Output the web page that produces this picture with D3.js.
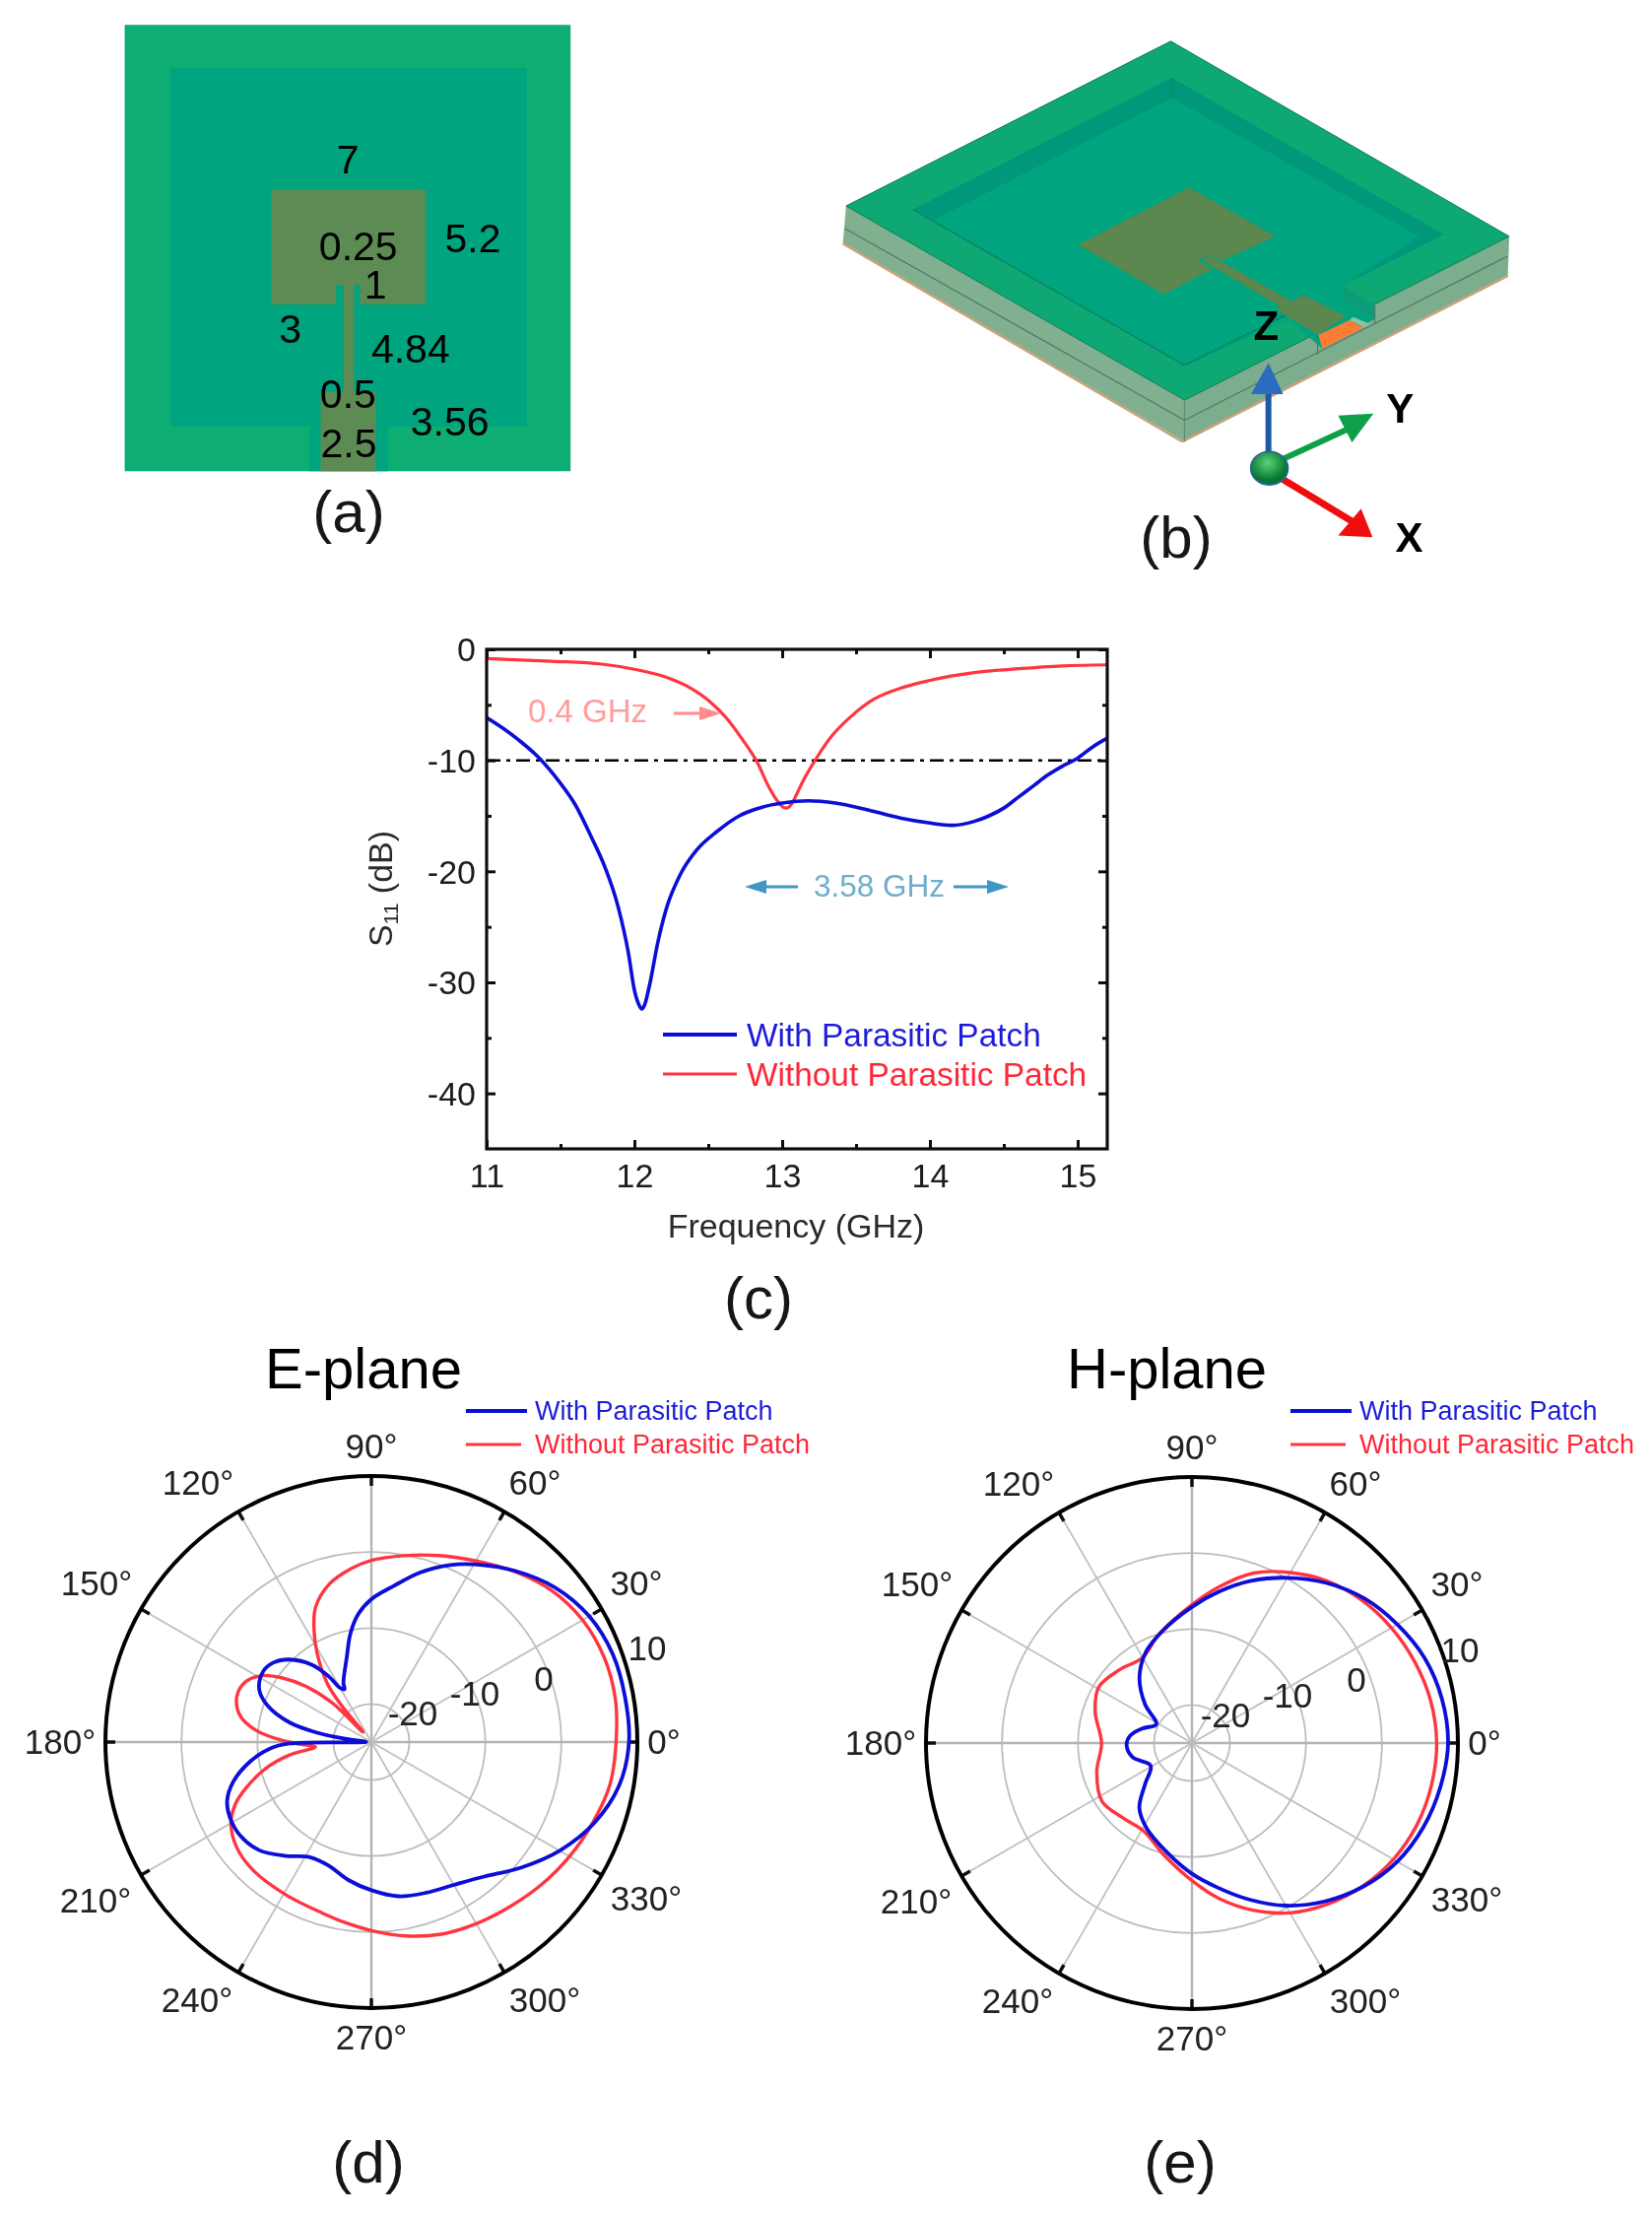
<!DOCTYPE html>
<html><head><meta charset="utf-8">
<script src="https://cdn.jsdelivr.net/npm/d3@7"></script>
<style>html,body{margin:0;background:#fff}svg{display:block}text{font-family:"Liberation Sans",Arial,sans-serif;fill:#141414}</style>
</head><body><svg id="fig" width="1677" height="2248"></svg>
<script>
// ---- data ----
const s11Freq = [11,11.11,11.22,11.36,11.49,11.6,11.71,11.8,11.89,11.96,12,12.03,12.05,12.07,12.1,12.16,12.22,12.31,12.42,12.56,12.71,12.87,13,13.18,13.36,13.56,13.8,14,14.15,14.3,14.4,14.5,14.6,14.7,14.8,14.9,15,15.1,15.2];
const s11With = [-6.15,-7.1,-8.2,-9.85,-11.9,-14,-16.95,-19.6,-23.2,-27.4,-30.7,-32,-32.4,-32,-30.4,-26.3,-23.2,-20.3,-18.1,-16.4,-15,-14.2,-13.85,-13.65,-13.85,-14.4,-15.2,-15.65,-15.85,-15.5,-15,-14.3,-13.3,-12.3,-11.3,-10.5,-9.8,-8.8,-8];
const s11FreqNo = [11,11.44,11.78,12,12.2,12.38,12.51,12.62,12.73,12.83,12.91,12.97,13,13.03,13.06,13.1,13.14,13.23,13.33,13.47,13.62,13.8,14,14.3,14.6,14.9,15.2];
const s11Without = [-0.83,-1.07,-1.33,-1.8,-2.45,-3.5,-4.7,-6.15,-8.1,-10.15,-12.4,-13.7,-14.15,-14.3,-14,-13,-11.9,-9.85,-7.9,-6,-4.5,-3.5,-2.8,-2.1,-1.75,-1.5,-1.4];
const xTicks = [11,12,13,14,15], xMinor = [11.5,12.5,13.5,14.5];
const yTicks = [0,-10,-20,-30,-40], yMinor = [-5,-15,-25,-35];
const seriesNames = ["With Parasitic Patch","Without Parasitic Patch"];
const polarAngles = [0,30,60,90,120,150,180,210,240,270,300,330];
const polarRings = [-20,-10,0,10];

const eWithAng = [0,10,20,30,40,50,60,66,74,82,90,95.9,101,106,115.3,117,120,123,127.5,134.8,141,146.9,154.9,160.8,166.5,170,172.9,178,181,183.7,189.2,196,202.2,208.1,215.5,224,233,241.5,250.9,260.5,270,280,290,300,310,320,330,340,350];
const eWithDb = [8.9,8.9,8.8,8.1,6.6,4.4,2,0.5,-1.8,-4.3,-6.2,-8.1,-10.5,-13.3,-16.4,-17.2,-16.8,-14.7,-12.2,-9.7,-8.4,-8,-8.7,-10.6,-13.9,-17.5,-21.5,-24.3,-14.2,-11.6,-8.8,-6.1,-4.5,-3.9,-3.8,-4.5,-6.25,-7.8,-7.8,-6.6,-5.5,-4.4,-3.9,-3.3,-1.9,0.7,3.6,6.2,8.1];
const eNoAng = [0,10,20,30,40,50,60,70,80,90,96.5,105,112.5,117.2,121.4,126.9,129.3,130,135,139.6,144.2,148.4,154,161.1,168.7,174.3,179,181.6,185,189,194,200,204.6,210.3,218,227.3,240.8,253.9,261.7,270,280,290,300,310,320,330,340,350];
const eNoDb = [7.2,7.6,7.6,7.1,6,4.3,2.5,1.1,-0.1,-1.1,-2,-3.5,-5.8,-8.5,-11.3,-15.3,-18.9,-23.3,-17.7,-13.7,-10.6,-8.3,-6.7,-6.3,-7.4,-9.8,-13.3,-15.5,-17.6,-14.1,-10.7,-7.5,-5.3,-3.6,-2.5,-2.05,-1.97,-1.6,-1,-0.2,0.9,1.9,2.6,3.3,4.2,5.1,6,6.9];
const hWithAng = [0,10,20,30,40,50,60,70,80,90,105,117,128.9,140.5,152.2,163.6,173.3,182,193.8,208.7,221.2,231,242,258,270,280,290,300,310,320,330,340,350];
const hWithDb = [8.7,8.4,7.6,6.2,4.6,2.5,0.1,-2.3,-4.8,-7.1,-9.8,-11.6,-14,-17,-19.7,-18.2,-16.8,-16.4,-17,-18.8,-16.8,-14,-12.3,-10.1,-7.8,-5.7,-3.1,-0.3,2.2,4.4,6.2,7.4,8.2];
const hNoAng = [0,10,20,30,40,50,60,70,80,90,106.6,120,135.4,149,162,180,197,212.7,227.5,241,256,270,280,290,300,310,320,330,340,350];
const hNoDb = [7.2,6.9,6.2,5.3,4.2,2.8,0.9,-1.2,-4.1,-6.8,-10,-12,-11.4,-10.7,-11.6,-13.1,-11.9,-10.9,-11.6,-11.8,-9.8,-6.9,-4.2,-1.6,0.8,2.7,4.3,5.6,6.5,7];

// ---- setup ----
const BLUE="#0c0cd8", RED="#ff3440";
const svg=d3.select("#fig");
const defs=svg.append("defs");
defs.append("filter").attr("id","soft").attr("x",0).attr("y",0).attr("width",1).attr("height",1)
  .attr("filterUnits","objectBoundingBox").append("feGaussianBlur").attr("stdDeviation",0.7);
const grad=defs.append("radialGradient").attr("id","ball").attr("cx","45%").attr("cy","35%");
grad.append("stop").attr("offset","0%").attr("stop-color","#5fd07a");
grad.append("stop").attr("offset","100%").attr("stop-color","#067a30");
const root=svg.append("g").attr("filter","url(#soft)");
root.append("rect").attr("width",1677).attr("height",2248).attr("fill","#fff");
const T=(g,s,x,y,size,opt={})=>g.append("text").text(s).attr("x",x).attr("y",y).attr("font-size",size)
  .attr("text-anchor",opt.anchor||"start").attr("font-weight",opt.bold?"bold":null).style("fill",opt.fill||null);

// ---- panel (a) ----
{
  const g=root.append("g");
  const X=d3.scaleLinear([0,1568],[100,620]), Y=d3.scaleLinear([0,1568],[0,580]);
  const poly=(pts,fill)=>g.append("path").attr("d",d3.line().x(d=>X(d[0])).y(d=>Y(d[1])).curve(d3.curveLinearClosed)(pts)).attr("fill",fill);
  poly([[80,68],[1445,68],[1445,1293],[80,1293]],"#09ad73");
  poly([[220,188],[1310,188],[1310,1170],[885,1170],[885,1293],[645,1293],[645,1170],[220,1170]],"#00a47f");
  poly([[528,520],[1002,520],[1002,835],[800,835],[800,782],[782,782],[782,1075],[848,1075],[848,1293],[680,1293],[680,1075],[750,1075],[750,782],[727,782],[727,835],[528,835]],"#5c8c52");
  const ft=[["7",763,475,"middle"],["0.25",675,713],["5.2",1060,693],["1",848,820,"middle"],["3",587,940,"middle"],["4.84",835,995],["0.5",678,1118],["2.5",680,1255],["3.56",955,1195]];
  ft.forEach(d=>T(g,d[0],X(d[1]),Y(d[2]),41,{anchor:d[3],fill:"#000"}));
  T(g,"(a)",354,540,60,{anchor:"middle"});
}
// ---- panel (b) ----
{
  const g=root.append("g");
  const X=d3.scaleLinear([0,1568],[830,1560]), Y=d3.scaleLinear([0,1568],[20,590]);
  const P=pts=>d3.line().x(d=>X(d[0])).y(d=>Y(d[1])).curve(d3.curveLinearClosed)(pts);
  const poly=(pts,fill,st)=>g.append("path").attr("d",P(pts)).attr("fill",fill).attr("stroke",st||"none").attr("stroke-width",1);
  const L=(a,b,c,w)=>g.append("line").attr("x1",X(a[0])).attr("y1",Y(a[1])).attr("x2",X(b[0])).attr("y2",Y(b[1])).attr("stroke",c).attr("stroke-width",w||1.2);
  poly([[55,625],[62,520],[800,1062],[800,1178]],"#80b08f");
  poly([[800,1178],[800,1062],[1508,605],[1505,715]],"#7cae8d");
  L([55,625],[795,1178],"#c9a27a",2.5); L([795,1178],[1505,715],"#c9a27a",2.5);
  L([60,583],[800,1118],"#4d7a62"); L([800,1118],[1505,660],"#4d7a62"); L([800,1062],[800,1178],"#5d8a72");
  poly([[770,60],[1508,605],[800,1062],[62,520]],"#09a873","#0a7a5a");
  poly([[772,162],[1365,600],[1145,742],[1145,785],[1040,830],[800,965],[208,530]],"#00977a");
  poly([[772,218],[1312,605],[1145,742],[1145,785],[1040,830],[800,965],[208,530],[255,558]],"#00a47e");
  L([772,162],[772,218],"#008a6a"); L([208,530],[800,965],"#0a7d5e"); L([800,965],[1040,812],"#0a7d5e");
  poly([[1145,742],[1215,798],[1215,835],[1145,785]],"#0e9c78");
  poly([[1145,785],[1215,835],[1100,918],[1030,840]],"#00a47e");
  L([1215,798],[1215,850],"#4d7a62"); L([1090,880],[1090,935],"#4d7a62");
  poly([[810,468],[998,605],[882,672],[855,655],[828,672],[860,697],[755,767],[568,628]],"#5c8850");
  poly([[838,672],[855,657],[1040,790],[1015,805]],"#5c8850");
  poly([[1060,768],[1150,828],[1092,880],[1000,810]],"#5c8850");
  poly([[1092,880],[1160,838],[1190,860],[1100,918]],"#fb7b32");
  poly([[1168,830],[1205,850],[1190,858],[1160,838]],"#8cc4a6");
  // triad
  L([983,1250],[983,1040],"#1d5aa4",6);
  poly([[945,1045],[983,958],[1015,1045]],"#2a6cc0");
  L([1000,1235],[1170,1135],"#0aa04a",6);
  poly([[1135,1105],[1212,1100],[1165,1180]],"#0aa04a");
  L([1010,1280],[1165,1400],"#f01010",7);
  poly([[1185,1365],[1210,1445],[1135,1440]],"#f01010");
  g.append("ellipse").attr("cx",X(985)).attr("cy",Y(1252)).attr("rx",19).attr("ry",17).attr("fill","url(#ball)").attr("stroke","#2a5fae").attr("stroke-width",1.5);
  T(g,"Z",X(978),Y(895),42,{anchor:"middle",bold:true,fill:"#000"});
  T(g,"Y",X(1270),Y(1125),42,{anchor:"middle",bold:true,fill:"#000"});
  T(g,"X",X(1290),Y(1485),42,{anchor:"middle",bold:true,fill:"#000"});
  T(g,"(b)",1194,566,60,{anchor:"middle"});
}
// ---- panel (c) ----
{
  const g=root.append("g");
  const x=d3.scaleLinear([11,15.2],[494,1124]), y=d3.scaleLinear([0,-45],[659,1166]);
  const [l,r]=x.range(), [t,b]=y.range();
  defs.append("clipPath").attr("id","cp").append("rect").attr("x",l).attr("y",t).attr("width",r-l).attr("height",b-t);
  const style=s=>{s.select(".domain").remove();s.selectAll("line").attr("stroke","#111").attr("stroke-width",3);};
  const bottom=(s,o,size)=>g.append("g").attr("transform",`translate(0,${o})`).call(d3.axisBottom(x).tickValues(s).tickSize(size).tickFormat(d=>d)).call(style);
  const left=(s,o,size)=>g.append("g").attr("transform",`translate(${o},0)`).call(d3.axisLeft(y).tickValues(s).tickSize(size).tickFormat(d=>d)).call(style);
  const bt=bottom(xTicks,b,-9), tt=bottom(xTicks,t,9);
  bottom(xMinor,b,-5).selectAll("text").remove(); bottom(xMinor,t,5).selectAll("text").remove();
  tt.selectAll("text").remove();
  const lt=left(yTicks,l,-9), rt=left(yTicks,r,9); rt.selectAll("text").remove();
  left(yMinor,l,-5).selectAll("text").remove(); left(yMinor,r,5).selectAll("text").remove();
  bt.selectAll("text").attr("y",0).attr("dy",0).attr("transform","translate(0,39)").attr("font-size",34).attr("font-family",null).style("fill","#1c1c1c");
  lt.selectAll("text").attr("x",-11).attr("dy","0.35em").attr("font-size",34).attr("font-family",null).style("fill","#1c1c1c");
  const line=g.append("g").attr("clip-path","url(#cp)");
  line.append("line").attr("x1",l).attr("x2",r).attr("y1",y(-10)).attr("y2",y(-10)).attr("stroke","#000").attr("stroke-width",2.5).attr("stroke-dasharray","14 6 4 6");
  const lg=(xs,ys)=>d3.line().x((d,i)=>x(xs[i])).y((d,i)=>y(ys[i])).curve(d3.curveMonotoneX)(ys);
  line.append("path").attr("d",lg(s11FreqNo,s11Without)).attr("fill","none").attr("stroke",RED).attr("stroke-width",3.2);
  line.append("path").attr("d",lg(s11Freq,s11With)).attr("fill","none").attr("stroke",BLUE).attr("stroke-width",3.6);
  g.append("rect").attr("x",l).attr("y",t).attr("width",r-l).attr("height",b-t).attr("fill","none").attr("stroke","#111").attr("stroke-width",3.2);
  T(g,"Frequency (GHz)",808,1256,34,{anchor:"middle",fill:"#2a2a2a"});
  const st=g.append("text").attr("transform","translate(398,902) rotate(-90)").attr("text-anchor","middle").attr("font-size",34).style("fill","#2a2a2a");
  st.append("tspan").text("S");st.append("tspan").text("11").attr("font-size",21).attr("dy",6);st.append("tspan").text(" (dB)").attr("dy",-6);
  // legend
  g.append("line").attr("x1",673).attr("x2",748).attr("y1",1050).attr("y2",1050).attr("stroke",BLUE).attr("stroke-width",4.2);
  g.append("line").attr("x1",673).attr("x2",748).attr("y1",1090).attr("y2",1090).attr("stroke",RED).attr("stroke-width",3.2);
  T(g,seriesNames[0],758,1062,33.4,{fill:"#1d1dd8"});
  T(g,seriesNames[1],758,1102,33.4,{fill:"#ff2838"});
  // annotations
  const arrow=(x1,x2,yy,c)=>{const d=x2>x1?1:-1;
    g.append("line").attr("x1",x1).attr("x2",x2-d*10).attr("y1",yy).attr("y2",yy).attr("stroke",c).attr("stroke-width",3);
    g.append("path").attr("d",`M${x2},${yy}L${x2-d*22},${yy-7}L${x2-d*22},${yy+7}Z`).attr("fill",c);};
  T(g,"0.4 GHz",536,733,33,{fill:"#ff9c9c"}); arrow(684,732,724,"#ff8a8a");
  T(g,"3.58 GHz",826,910,31.5,{fill:"#6fadcc"}); arrow(810,756,900,"#3f96c4"); arrow(968,1024,900,"#3f96c4");
  T(g,"(c)",770,1338,60,{anchor:"middle"});
}
// ---- polar panels ----
const labelOffsets={0:[297,0],30:[269,-161],60:[166,-263],90:[0,-300],120:[-176,-263],150:[-279,-161],180:[-316,0],210:[-280,161],240:[-177,262],270:[0,300],300:[176,262],330:[279,159]};
function polar(cx,cy,title,titleX,ringLabels,lx,aW,dW,aN,dN,caption,capX){
  const R=270, g=root.append("g");
  const r=d3.scaleLinear([-25,10],[0,R]);
  const p=g.append("g").attr("transform",`translate(${cx},${cy})`);
  polarRings.slice(0,3).forEach(v=>p.append("circle").attr("r",r(v)).attr("fill","none").attr("stroke","#bdbdbd").attr("stroke-width",1.8));
  polarAngles.forEach(a=>{const t=a*Math.PI/180;
    p.append("line").attr("x2",R*Math.cos(t)).attr("y2",-R*Math.sin(t)).attr("stroke",a%90?"#c0c0c0":"#b4b4b4").attr("stroke-width",a%90?1.8:2.4);
    p.append("line").attr("x1",(R-10)*Math.cos(t)).attr("y1",-(R-10)*Math.sin(t)).attr("x2",R*Math.cos(t)).attr("y2",-R*Math.sin(t)).attr("stroke","#111").attr("stroke-width",3.5);
    const o=labelOffsets[a];
    T(p,a+"°",o[0],o[1]+12,35,{anchor:"middle",fill:"#202020"});
  });
  p.append("circle").attr("r",R).attr("fill","none").attr("stroke","#000").attr("stroke-width",4);
  const path=(as,ds,c,w)=>p.append("path").attr("d",d3.lineRadial().angle((d,i)=>(90-as[i])*Math.PI/180).radius((d,i)=>r(ds[i])).curve(d3.curveCatmullRomClosed.alpha(0.5))(ds)).attr("fill","none").attr("stroke",c).attr("stroke-width",w);
  path(aN,dN,RED,3.4); path(aW,dW,BLUE,3.8);
  polarRings.forEach((v,i)=>T(p,v,ringLabels[i][0],ringLabels[i][1]+12,35,{anchor:"middle",fill:"#202020"}));
  T(g,title,titleX,1409,58,{fill:"#000"});
  [0,1].forEach(i=>{const yy=1432+i*34;
    g.append("line").attr("x1",lx).attr("x2",lx+(i?56:62)).attr("y1",yy).attr("y2",yy).attr("stroke",i?RED:BLUE).attr("stroke-width",i?3.2:3.8);
    T(g,seriesNames[i],lx+70,yy+9,27,{fill:i?"#ff2838":"#1d1dd8"});
  });
  T(g,caption,capX,2215,60,{anchor:"middle"});
}
polar(377,1768,"E-plane",269,[[42,-29],[105,-49],[175,-64],[280,-95]],473,eWithAng,eWithDb,eNoAng,eNoDb,"(d)",374);
polar(1210,1769,"H-plane",1083,[[34,-28],[97,-48],[167,-64],[272,-94]],1310,hWithAng,hWithDb,hNoAng,hNoDb,"(e)",1198);
</script></body></html>
